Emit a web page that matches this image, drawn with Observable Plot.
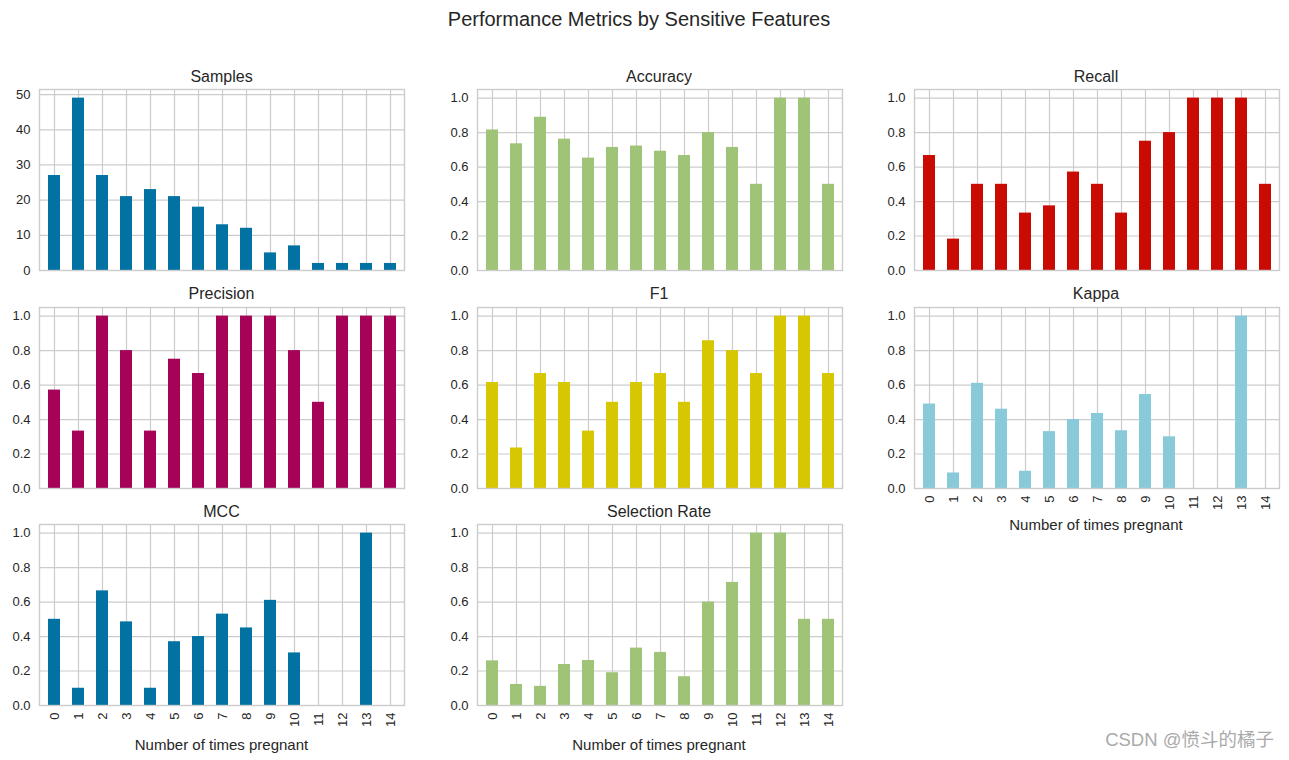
<!DOCTYPE html>
<html>
<head>
<meta charset="utf-8">
<script src="https://cdn.jsdelivr.net/npm/d3@7"></script>
<script src="https://cdn.jsdelivr.net/npm/@observablehq/plot@0.6"></script>
<style>
  html, body { margin: 0; padding: 0; background: #fff; }
  #root { position: relative; width: 1289px; height: 760px; overflow: hidden;
          font-family: "Liberation Sans", Arial, sans-serif; color: #262626; }
  .abs { position: absolute; }
  .title { position: absolute; text-align: center; font-size: 16px; line-height: 16px; white-space: nowrap; }
  .xlab { position: absolute; text-align: center; font-size: 15px; line-height: 15px; white-space: nowrap; }
</style>
</head>
<body>
<div id="root"></div>
<script>
// ---- data ----
const categories = ["0","1","2","3","4","5","6","7","8","9","10","11","12","13","14"];
const samples   = [27, 49, 27, 21, 23, 21, 18, 13, 12, 5, 7, 2, 2, 2, 2];
const accuracy  = [0.815, 0.735, 0.889, 0.762, 0.652, 0.714, 0.722, 0.692, 0.667, 0.8, 0.714, 0.5, 1.0, 1.0, 0.5];
const recall    = [0.667, 0.182, 0.5, 0.5, 0.333, 0.375, 0.571, 0.5, 0.333, 0.75, 0.8, 1.0, 1.0, 1.0, 0.5];
const precision = [0.571, 0.333, 1.0, 0.8, 0.333, 0.75, 0.667, 1.0, 1.0, 1.0, 0.8, 0.5, 1.0, 1.0, 1.0];
const f1        = [0.615, 0.235, 0.667, 0.615, 0.333, 0.5, 0.615, 0.667, 0.5, 0.857, 0.8, 0.667, 1.0, 1.0, 0.667];
const kappa     = [0.49, 0.09, 0.61, 0.46, 0.10, 0.33, 0.40, 0.435, 0.335, 0.545, 0.30, 0, 0, 1.0, 0];
const mcc       = [0.50, 0.10, 0.665, 0.485, 0.10, 0.37, 0.40, 0.53, 0.45, 0.61, 0.305, 0, 0, 1.0, 0];
const selectionRate = [0.259, 0.122, 0.111, 0.238, 0.261, 0.19, 0.333, 0.308, 0.167, 0.6, 0.714, 1.0, 1.0, 0.5, 0.5];

const countTicks = [0, 10, 20, 30, 40, 50];
const rateTicks  = [0, 0.2, 0.4, 0.6, 0.8, 1.0];

const palette = ["#0272a2", "#9fc377", "#ca0b03", "#a50258", "#d7c703", "#88cada"];

const mainTitle = "Performance Metrics by Sensitive Features";
const xAxisTitle = "Number of times pregnant";
const watermark = "CSDN @愤斗的橘子";

// ---- layout ----
const frameLefts = [39, 476.5, 913.5];
const frameTops  = [89, 306.5, 524];
const frameW = 365, frameH = 181;
const mL = 45, mR = 5, mT = 8;

const panels = [
  {title: "Samples",        values: samples,       color: palette[0], row: 0, col: 0, xlab: false, count: true},
  {title: "Accuracy",       values: accuracy,      color: palette[1], row: 0, col: 1, xlab: false},
  {title: "Recall",         values: recall,        color: palette[2], row: 0, col: 2, xlab: false},
  {title: "Precision",      values: precision,     color: palette[3], row: 1, col: 0, xlab: false},
  {title: "F1",             values: f1,            color: palette[4], row: 1, col: 1, xlab: false},
  {title: "Kappa",          values: kappa,         color: palette[5], row: 1, col: 2, xlab: true},
  {title: "MCC",            values: mcc,           color: palette[0], row: 2, col: 0, xlab: true},
  {title: "Selection Rate", values: selectionRate, color: palette[1], row: 2, col: 1, xlab: true}
];

const root = document.getElementById("root");

function addDiv(cls, text, style) {
  const d = document.createElement("div");
  d.className = cls;
  d.textContent = text;
  Object.assign(d.style, style);
  root.appendChild(d);
  return d;
}

addDiv("title", mainTitle, {left: "0px", width: "1278px", top: "8.5px", fontSize: "20px", lineHeight: "20px"});

for (const p of panels) {
  const data = categories.map((c, i) => ({k: c, v: p.values[i]}));
  const mB = p.xlab ? 40 : 12;
  const yMax = p.count ? d3.max(p.values) * 1.05 : 1.05;
  const ticks = p.count ? countTicks : rateTicks;
  const fmt = p.count ? d3.format("d") : d3.format(".1f");
  const marks = [
    Plot.gridY(ticks, {stroke: "#cccccc", strokeOpacity: 1, strokeWidth: 1.2}),
    Plot.gridX(categories, {stroke: "#cccccc", strokeOpacity: 1, strokeWidth: 1.2}),
    Plot.barY(data, {x: "k", y: "v", fill: p.color}),
    Plot.frame({stroke: "#cccccc", strokeWidth: 1.4}),
    Plot.axisY(ticks, {tickSize: 0, tickPadding: 9, tickFormat: fmt, label: null, fontSize: 13, fill: "#262626"})
  ];
  if (p.xlab) {
    marks.push(Plot.axisX(categories, {tickSize: 0, tickPadding: 7, tickRotate: -90, label: null, fontSize: 13, fill: "#262626"}));
  }
  const chart = Plot.plot({
    width: mL + frameW + mR,
    height: mT + frameH + mB,
    marginLeft: mL, marginRight: mR, marginTop: mT, marginBottom: mB,
    style: {fontFamily: '"Liberation Sans", Arial, sans-serif', fontSize: "13px", color: "#262626", background: "transparent", overflow: "visible"},
    x: {type: "band", domain: categories, paddingInner: 0.5, paddingOuter: 0.25, axis: p.xlab ? undefined : null},
    y: {domain: [0, yMax], axis: null},
    marks
  });
  const wrap = document.createElement("div");
  wrap.className = "abs";
  wrap.style.left = (frameLefts[p.col] - mL) + "px";
  wrap.style.top = (frameTops[p.row] - mT) + "px";
  wrap.appendChild(chart);
  root.appendChild(wrap);

  addDiv("title", p.title, {left: frameLefts[p.col] + "px", width: frameW + "px", top: (frameTops[p.row] - 20.5) + "px"});
  if (p.xlab) {
    const off = p.row === 2 ? 39 : 36.5;
    addDiv("xlab", xAxisTitle, {left: frameLefts[p.col] + "px", width: frameW + "px", top: (frameTops[p.row] + frameH + off - 7.5) + "px"});
  }
}

addDiv("abs", watermark, {right: "15px", top: "731px", fontSize: "18.5px", lineHeight: "18.5px", color: "#aaaaaa",
  fontFamily: '"Liberation Sans", "Noto Sans CJK SC", sans-serif', textAlign: "right", whiteSpace: "nowrap"});
</script>
</body>
</html>
